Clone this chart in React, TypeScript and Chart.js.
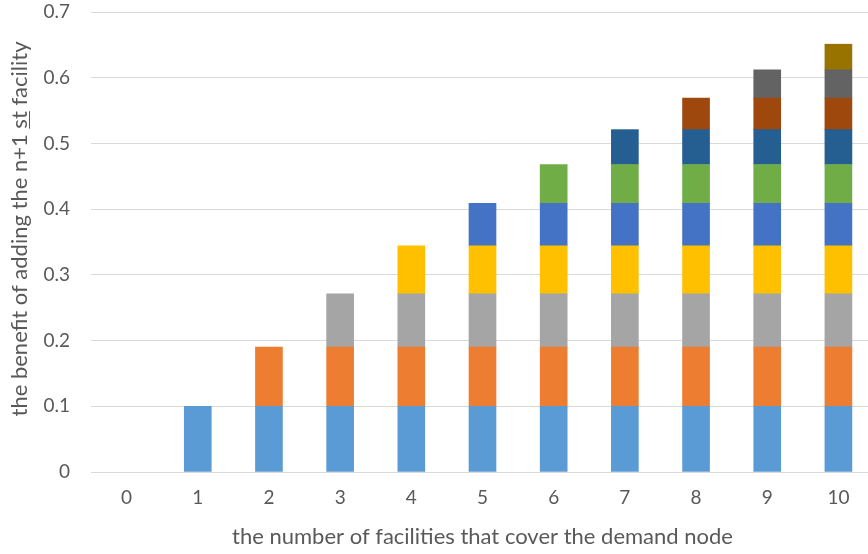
import React, { useEffect, useRef } from "react";
import { Chart, registerables } from "chart.js";

Chart.register(...registerables);

// Number of facilities already covering the demand node
const categories = ["0", "1", "2", "3", "4", "5", "6", "7", "8", "9", "10"];

// Marginal benefit contributed by each successive facility (one stacked layer each)
const layer1 = [null, 0.1, 0.1, 0.1, 0.1, 0.1, 0.1, 0.1, 0.1, 0.1, 0.1];
const layer2 = [null, null, 0.09, 0.09, 0.09, 0.09, 0.09, 0.09, 0.09, 0.09, 0.09];
const layer3 = [null, null, null, 0.081, 0.081, 0.081, 0.081, 0.081, 0.081, 0.081, 0.081];
const layer4 = [null, null, null, null, 0.073, 0.073, 0.073, 0.073, 0.073, 0.073, 0.073];
const layer5 = [null, null, null, null, null, 0.065, 0.065, 0.065, 0.065, 0.065, 0.065];
const layer6 = [null, null, null, null, null, null, 0.059, 0.059, 0.059, 0.059, 0.059];
const layer7 = [null, null, null, null, null, null, null, 0.053, 0.053, 0.053, 0.053];
const layer8 = [null, null, null, null, null, null, null, null, 0.048, 0.048, 0.048];
const layer9 = [null, null, null, null, null, null, null, null, null, 0.043, 0.043];
const layer10 = [null, null, null, null, null, null, null, null, null, null, 0.039];

const layers = [layer1, layer2, layer3, layer4, layer5, layer6, layer7, layer8, layer9, layer10];
const colors = [
  "#5B9BD5", "#ED7D31", "#A5A5A5", "#FFC000", "#4472C4",
  "#70AD47", "#255E91", "#9E480E", "#636363", "#997300",
];

const yTicks = [0, 0.1, 0.2, 0.3, 0.4, 0.5, 0.6, 0.7];

const xTitle = "the number of facilities that cover the demand node";
const yTitleParts = ["the benefit of adding the n+1 ", "st", " facility"];

const FONT = 'Lato, "Open Sans", sans-serif';
const TEXT = "#595959";

const titlesPlugin = {
  id: "axisTitles",
  afterDraw(chart: any) {
    const { ctx, chartArea } = chart;
    ctx.save();
    ctx.fillStyle = TEXT;
    ctx.font = `22px ${FONT}`;
    ctx.textBaseline = "middle";
    ctx.textAlign = "center";
    ctx.fillText(xTitle, (chartArea.left + chartArea.right) / 2, 537);

    // Rotated y title with the ordinal suffix underlined
    const widths = yTitleParts.map((p) => ctx.measureText(p).width);
    const total = widths.reduce((a, b) => a + b, 0);
    ctx.translate(20, 229);
    ctx.rotate(-Math.PI / 2);
    ctx.textAlign = "left";
    let x = -total / 2;
    yTitleParts.forEach((p, i) => {
      ctx.fillText(p, x, 0);
      if (i === 1) {
        ctx.strokeStyle = TEXT;
        ctx.lineWidth = 1;
        ctx.beginPath();
        ctx.moveTo(x, 9.5);
        ctx.lineTo(x + widths[i], 9.5);
        ctx.stroke();
      }
      x += widths[i];
    });
    ctx.restore();
  },
};

export default function App() {
  const ref = useRef<HTMLCanvasElement>(null);

  useEffect(() => {
    if (!ref.current) return;
    const chart = new Chart(ref.current, {
      type: "bar",
      data: {
        labels: categories,
        datasets: layers.map((data, i) => ({
          label: `facility ${i + 1}`,
          data,
          backgroundColor: colors[i],
          borderWidth: 0,
          barThickness: 27,
        })),
      },
      options: {
        animation: false,
        responsive: false,
        layout: { autoPadding: false, padding: { top: 12, right: 6, left: 0, bottom: 0 } },
        plugins: {
          legend: { display: false },
          tooltip: { enabled: false },
        },
        scales: {
          x: {
            stacked: true,
            grid: { display: false, drawTicks: false },
            border: { display: false },
            ticks: { color: TEXT, font: { family: FONT, size: 19 }, padding: 14 },
            afterFit: (scale: any) => {
              scale.height = 554 - 472;
            },
          },
          y: {
            stacked: true,
            min: 0,
            max: 0.7,
            afterBuildTicks: (scale: any) => {
              scale.ticks = yTicks.map((v) => ({ value: v }));
            },
            grid: { color: "#D9D9D9", drawTicks: false, lineWidth: 1 },
            border: { display: false },
            ticks: {
              color: TEXT,
              font: { family: FONT, size: 19 },
              padding: 21,
              callback: (v: any) => (v === 0 ? "0" : Number(v).toFixed(1)),
            },
            afterFit: (scale: any) => {
              scale.width = 91;
              scale.paddingTop = 0;
              scale.paddingBottom = 0;
            },
          },
        },
      },
      plugins: [titlesPlugin],
    });
    return () => chart.destroy();
  }, []);

  return (
    <div style={{ position: "fixed", left: 0, top: 0, width: 868, height: 554, overflow: "hidden", background: "#fff" }}>
      <canvas ref={ref} width={880} height={554} style={{ display: "block" }} />
    </div>
  );
}
